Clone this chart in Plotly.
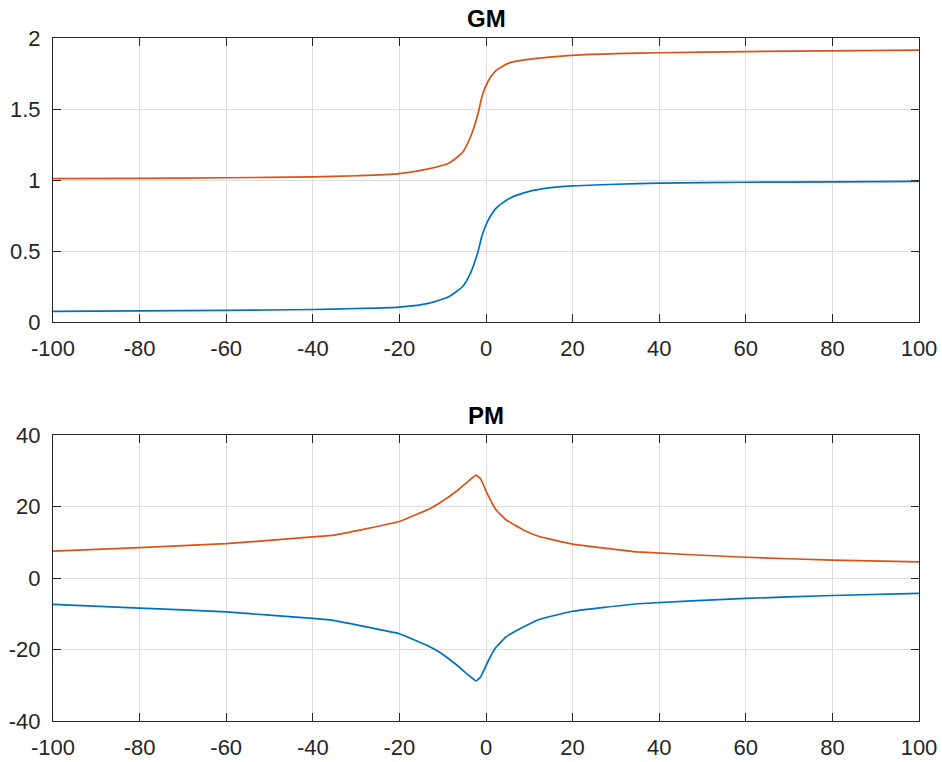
import plotly.graph_objects as go

# ---- data ----
gm_x = [-100, -80, -60, -40, -30, -20, -13, -8.5, -5.4, -3.5, -1.9, -0.9, 0.4, 2.3, 5.4, 10, 14.6, 20, 30, 40, 60, 80, 100]
gm_blue = [0.075, 0.078, 0.082, 0.088, 0.095, 0.105, 0.133, 0.18, 0.25, 0.35, 0.49, 0.61, 0.71, 0.80, 0.87, 0.92, 0.945, 0.958, 0.97, 0.978, 0.984, 0.987, 0.99]
gm_orange = [1.01, 1.012, 1.016, 1.022, 1.03, 1.045, 1.08, 1.12, 1.195, 1.31, 1.46, 1.59, 1.69, 1.77, 1.825, 1.85, 1.865, 1.878, 1.89, 1.896, 1.904, 1.91, 1.915]

pm_x = [-100, -80, -60, -40, -35, -20, -13, -10.8, -6.9, -3.8, -2.3, -1.2, 0.4, 2.3, 4.6, 8.5, 12.3, 20, 35, 60, 80, 100]
pm_orange = [7.5, 8.5, 9.6, 11.5, 12.0, 15.8, 19.4, 20.9, 24.2, 27.4, 28.8, 27.6, 23.3, 19.1, 16.3, 13.5, 11.6, 9.5, 7.3, 5.8, 5.0, 4.5]
pm_blue = [-7.4, -8.4, -9.5, -11.3, -11.9, -15.6, -19.2, -20.7, -24.2, -27.4, -28.8, -27.6, -23.5, -19.4, -16.5, -13.8, -11.6, -9.3, -7.2, -5.7, -4.9, -4.3]

x_ticks = [-100, -80, -60, -40, -20, 0, 20, 40, 60, 80, 100]
x_labels = ["-100", "-80", "-60", "-40", "-20", "0", "20", "40", "60", "80", "100"]
gm_ticks = [0, 0.5, 1, 1.5, 2]
gm_labels = ["0", "0.5", "1", "1.5", "2"]
pm_ticks = [-40, -20, 0, 20, 40]
pm_labels = ["-40", "-20", "0", "20", "40"]

BLUE = "#0072BD"
ORANGE = "#D95319"
AX = "#262626"
GRID = "#dedede"
FONT = "Liberation Sans, Arial, sans-serif"

W, H = 942, 762
xdom = [53 / W, 919 / W]
top_dom = [1 - 322 / H, 1 - 38 / H]
bot_dom = [1 - 721 / H, 1 - 435 / H]

fig = go.Figure()
fig.add_trace(go.Scatter(x=gm_x, y=gm_blue, mode="lines", line=dict(color=BLUE, width=1.7, shape="spline", smoothing=0.6), xaxis="x", yaxis="y"))
fig.add_trace(go.Scatter(x=gm_x, y=gm_orange, mode="lines", line=dict(color=ORANGE, width=1.7, shape="spline", smoothing=0.6), xaxis="x", yaxis="y"))
fig.add_trace(go.Scatter(x=pm_x, y=pm_blue, mode="lines", line=dict(color=BLUE, width=1.7, shape="spline", smoothing=0.3), xaxis="x2", yaxis="y2"))
fig.add_trace(go.Scatter(x=pm_x, y=pm_orange, mode="lines", line=dict(color=ORANGE, width=1.7, shape="spline", smoothing=0.3), xaxis="x2", yaxis="y2"))

common = dict(showline=True, linecolor=AX, linewidth=1.2, mirror="ticks", ticks="inside",
              ticklen=8, tickcolor=AX, tickwidth=1.2, showgrid=True, gridcolor=GRID, gridwidth=1,
              zeroline=False, automargin=False, tickfont=dict(family=FONT, size=22, color=AX))

fig.update_layout(
    width=W, height=H,
    margin=dict(l=0, r=0, t=0, b=0),
    paper_bgcolor="white", plot_bgcolor="white",
    showlegend=False,
    xaxis=dict(domain=xdom, anchor="y", range=[-100, 100], tickvals=x_ticks, ticktext=x_labels, ticklabelstandoff=6, **common),
    yaxis=dict(domain=top_dom, anchor="x", range=[0, 2], tickvals=gm_ticks, ticktext=gm_labels, ticklabelstandoff=7, **common),
    xaxis2=dict(domain=xdom, anchor="y2", range=[-100, 100], tickvals=x_ticks, ticktext=x_labels, ticklabelstandoff=6, **common),
    yaxis2=dict(domain=bot_dom, anchor="x2", range=[-40, 40], tickvals=pm_ticks, ticktext=pm_labels, ticklabelstandoff=7, **common),
    annotations=[
        dict(text="<b>GM</b>", x=0.5, xref="x domain", y=1.0, yref="y domain", yanchor="bottom",
             yshift=4, showarrow=False, font=dict(family=FONT, size=24, color="black")),
        dict(text="<b>PM</b>", x=0.5, xref="x2 domain", y=1.0, yref="y2 domain", yanchor="bottom",
             yshift=4, showarrow=False, font=dict(family=FONT, size=24, color="black")),
    ],
)

fig.write_html("out.html", config={"displayModeBar": False},
               post_script="document.body.style.margin='0';document.body.style.overflow='hidden';")
